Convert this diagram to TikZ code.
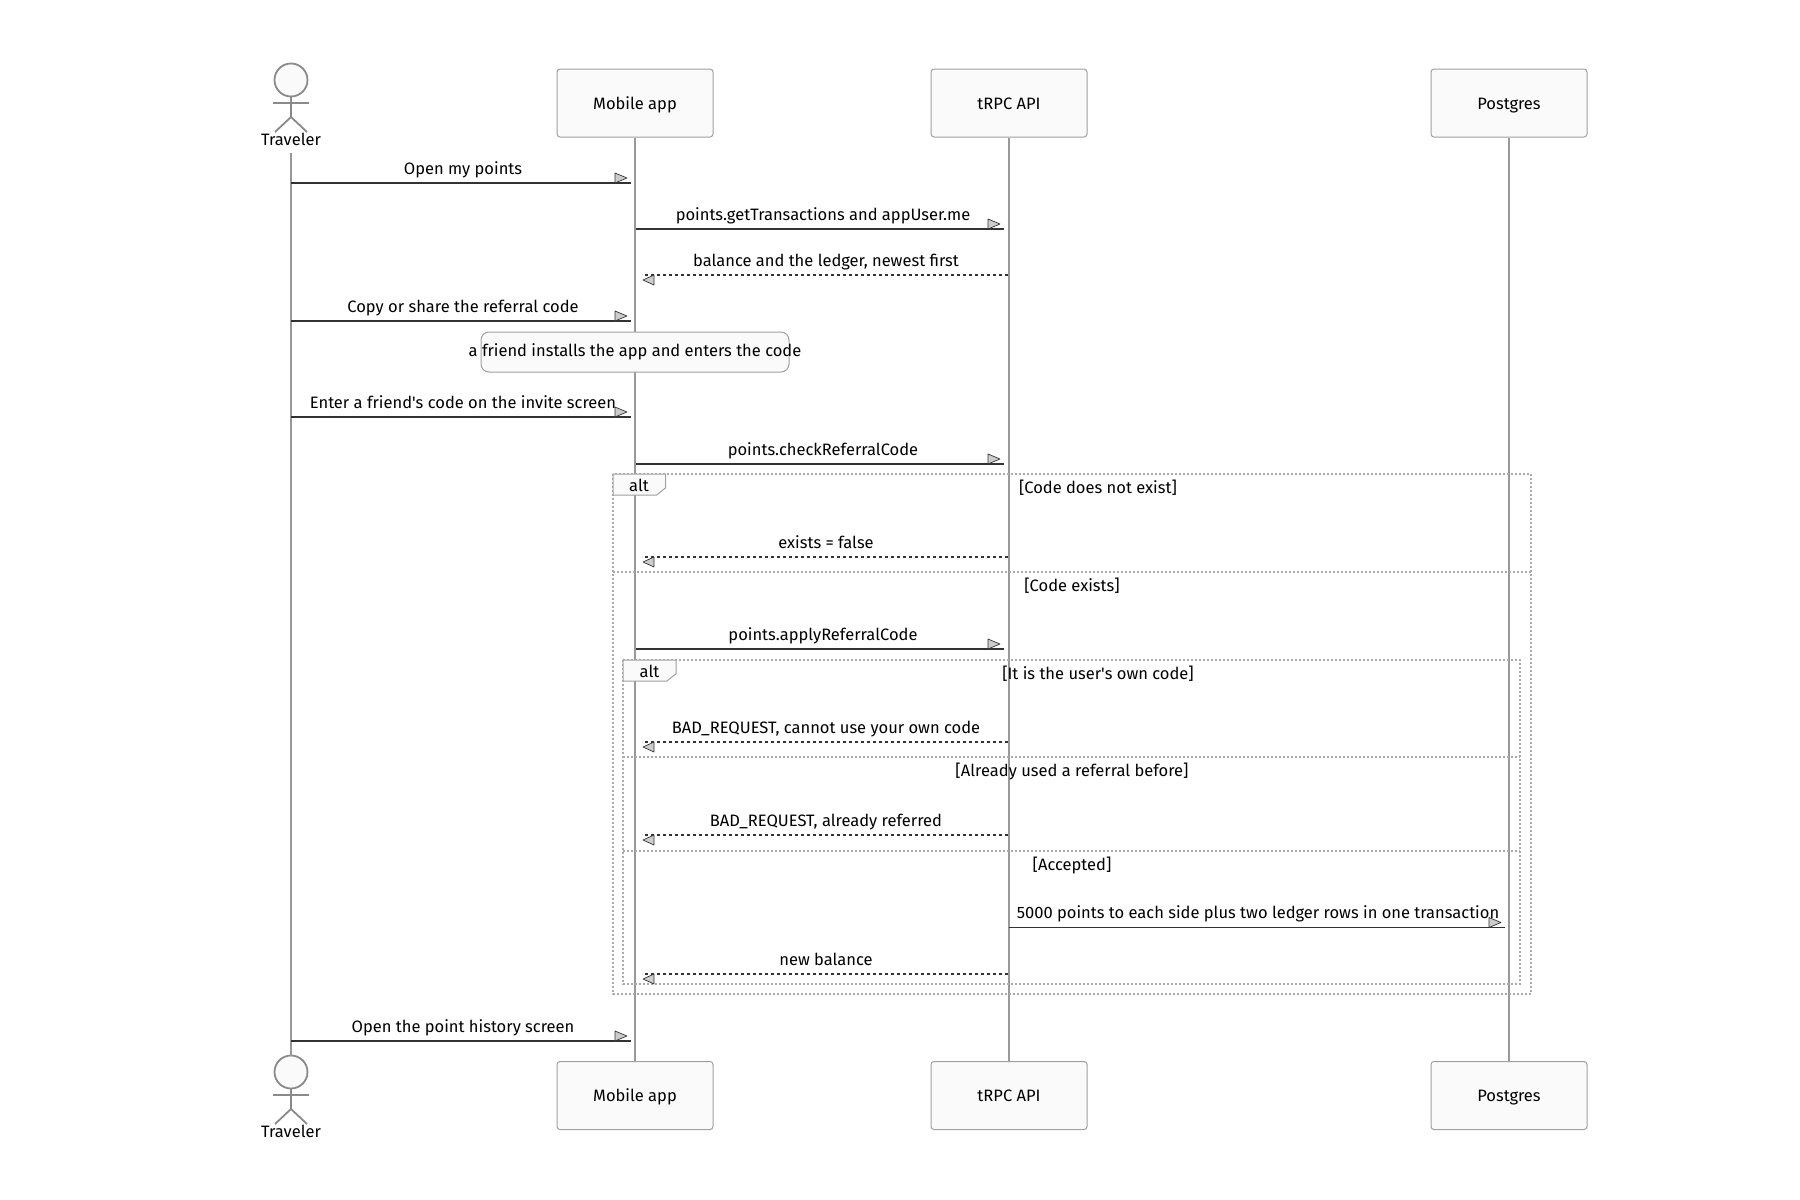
\documentclass[tikz,border=0pt]{standalone}
\usepackage{fontspec}
\setmainfont{Fira Sans}
\usetikzlibrary{calc}
\definecolor{lifegray}{HTML}{999999}
\definecolor{boxgray}{HTML}{A0A0A0}
\definecolor{boxfill}{HTML}{FAFAFA}
\definecolor{inkdark}{HTML}{333333}
\definecolor{tipfill}{HTML}{CCCCCC}
\definecolor{framegray}{HTML}{AAAAAA}
\newcommand\MsgR[6]{%
  \coordinate (#1s) at (#3,#2);
  \coordinate (#1e) at (#4,#2);
  \draw[msgsolid] (#1s) -- (#1e);
  \draw[tipstyle] ($(#1e)+(-16,-10)$) -- ($(#1e)+(-4,-5)$) -- ($(#1e)+(-16,0)$) -- cycle;
  \node[msglabel] (#1l) at (#5,#2-9) {#6};
}
\newcommand\MsgL[6]{%
  \coordinate (#1s) at (#3,#2);
  \coordinate (#1e) at (#4,#2);
  \draw[msgdash] (#1s) -- (#1e);
  \draw[tipstyle] ($(#1e)+(12,0)$) -- ($(#1e)+(1,5)$) -- ($(#1e)+(12,10)$) -- cycle;
  \node[msglabel] (#1l) at (#5,#2-9) {#6};
}
\begin{document}
\begin{tikzpicture}[x=1pt,y=-1pt,
  txt/.style={font=\fontsize{16.5}{20}\selectfont, text=black},
  actorbox/.style={txt, draw=boxgray, fill=boxfill, line width=1pt, rounded corners=3pt,
    minimum width=156pt, minimum height=68pt, inner sep=0pt, text height=12pt, text depth=0pt},
  lifeline/.style={draw=lifegray, line width=1.8pt},
  stick/.style={draw=lifegray!90!black, line width=1.8pt},
  msgsolid/.style={draw=inkdark, line width=1.8pt},
  msgdash/.style={draw=inkdark, line width=1.8pt, dash pattern=on 3pt off 3pt},
  tipstyle/.style={draw=inkdark, fill=tipfill, line width=0.7pt, line join=round},
  msglabel/.style={txt, anchor=base, inner sep=0pt},
  framestyle/.style={draw=framegray, line width=1.6pt, dash pattern=on 2pt off 2pt},
  labelbox/.style={draw=boxgray, fill=boxfill, line width=1pt},
  notebg/.style={draw=boxgray, fill=boxfill, line width=1pt, rounded corners=8pt,
    minimum width=308pt, minimum height=40pt, inner sep=0pt},
]
\useasboundingbox (0,0) rectangle (1800,1200);
\fill[white] (0,0) rectangle (1800,1200);

% participants (top)
\node[actorbox] (mobT) at (635,103) {Mobile app};
\node[actorbox] (apiT) at (1009,103) {tRPC API};
\node[actorbox] (pgT)  at (1509,103) {Postgres};
% participants (bottom)
\node[actorbox] (mobB) at (635,1095.5) {Mobile app};
\node[actorbox] (apiB) at (1009,1095.5) {tRPC API};
\node[actorbox] (pgB)  at (1509,1095.5) {Postgres};

% traveler actor (top)
\draw[stick, fill=boxfill] (291,80) circle (16.5);
\draw[stick] (273,103) -- (309,103);
\draw[stick] (291,96.5) -- (291,117);
\draw[stick] (275,132) -- (291,117) -- (307,132);
\node[msglabel] (trvTl) at (291,145) {Traveler};
% traveler actor (bottom)
\draw[stick, fill=boxfill] (291,1072) circle (16.5);
\draw[stick] (273,1095) -- (309,1095);
\draw[stick] (291,1088.5) -- (291,1109);
\draw[stick] (275,1124) -- (291,1109) -- (307,1124);
\node[msglabel] (trvBl) at (291,1137) {Traveler};

\coordinate (trvT) at (291,153);
\coordinate (trvB) at (291,1055.5);

% lifelines
\draw[lifeline] (trvT) -- (trvB);
\draw[lifeline] (mobT.south) -- (mobB.north);
\draw[lifeline] (apiT.south) -- (apiB.north);
\draw[lifeline] (pgT.south) -- (pgB.north);

% alt frames
\draw[framestyle] (613,474) rectangle (1531,994);
\draw[framestyle] (613,572) -- (1531,572);
\draw[labelbox] (613,474) -- (665.7,474) -- (665.7,487.7) -- (656.7,495) -- (613,495) -- cycle;
\node[msglabel] (alt1) at (639,491) {alt};
\node[msglabel] (c1) at (1098,493) {[Code does not exist]};
\node[msglabel] (c2) at (1072,591) {[Code exists]};

\draw[framestyle] (623,660) rectangle (1520,984);
\draw[framestyle] (623,757) -- (1520,757);
\draw[framestyle] (623,851) -- (1520,851);
\draw[labelbox] (623,660) -- (676,660) -- (676,673.7) -- (667,681) -- (623,681) -- cycle;
\node[msglabel] (alt2) at (649.5,677) {alt};
\node[msglabel] (c3) at (1098,679) {[It is the user\textquotesingle s own code]};
\node[msglabel] (c4) at (1072,776) {[Already used a referral before]};
\node[msglabel] (c5) at (1072,870) {[Accepted]};

% messages
\MsgR{m1}{183}{291}{631}{463}{Open my points}
\MsgR{m2}{229}{636}{1004}{823}{points.getTransactions and appUser.me}
\MsgL{m3}{275}{1008}{642}{826}{balance and the ledger, newest first}
\MsgR{m4}{321}{291}{631}{463}{Copy or share the referral code}

\node[notebg] (note) at (635,352) {};
\node[txt, inner sep=0pt] (notetext) at (note.center) {a friend installs the app and enters the code};

\MsgR{m6}{417}{291}{631}{463}{Enter a friend\textquotesingle s code on the invite screen}
\MsgR{m7}{464}{636}{1004}{823}{points.checkReferralCode}
\MsgL{m8}{557}{1008}{642}{826}{exists = false}
\MsgR{m9}{649}{636}{1004}{823}{points.applyReferralCode}
\MsgL{m10}{742}{1008}{642}{826}{BAD\_REQUEST, cannot use your own code}
\MsgL{m11}{835}{1008}{642}{826}{BAD\_REQUEST, already referred}
\MsgR{m12}{927.5}{1009}{1505}{1258}{5000 points to each side plus two ledger rows in one transaction}
\MsgL{m13}{974}{1008}{642}{826}{new balance}
\MsgR{m14}{1041}{291}{631}{463}{Open the point history screen}
\end{tikzpicture}
\end{document}
